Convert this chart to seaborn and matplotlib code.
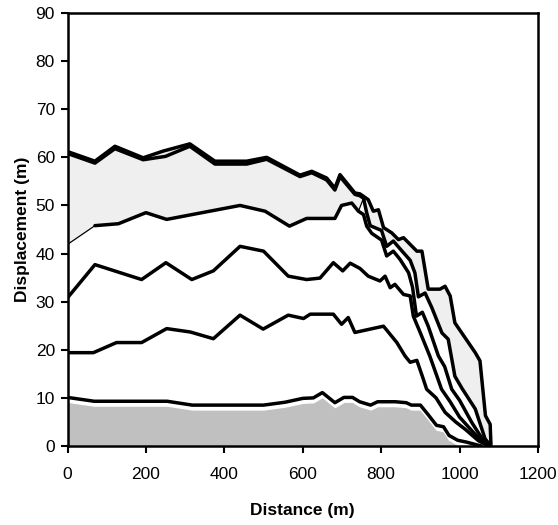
import numpy as np
import matplotlib
matplotlib.use("Agg")
import matplotlib.pyplot as plt
import seaborn as sns
import pandas as pd

# ---------------- data ----------------
l1_x = [0, 70, 121, 193, 244, 312, 376, 457, 508, 593, 623, 661, 682, 695, 733, 746,
        767, 780, 793, 806, 827, 844, 857, 891, 904, 920, 950, 963, 976, 988, 1040,
        1052, 1066, 1078, 1080]
l1_y = [61.2, 59.2, 62.3, 59.9, 61.3, 62.8, 59.2, 59.2, 60.0, 56.3, 57.1, 55.7, 53.6,
        56.4, 52.6, 52.4, 51.2, 48.8, 49.1, 45.4, 44.3, 42.9, 43.3, 40.5, 40.5, 32.6,
        32.6, 33.2, 31.2, 25.6, 19.4, 17.7, 6.3, 4.5, 0.3]

l1b_x = [0, 70, 121, 193, 250, 312, 376, 457, 508, 593, 623, 661, 682, 695, 733, 746,
         755, 763, 772, 801, 814, 831, 848, 874, 886, 895, 912, 929, 955, 971, 988,
         1006, 1040, 1065, 1078]
l1b_y = [60.8, 58.8, 61.8, 59.5, 60.2, 62.3, 58.6, 58.6, 59.6, 56.0, 56.8, 55.3, 53.2,
         56.0, 52.3, 52.0, 51.5, 48.5, 45.8, 44.8, 41.5, 42.6, 41.0, 38.6, 36.0, 31.0,
         31.8, 28.8, 23.5, 22.2, 14.5, 12.0, 7.7, 1.5, 0.2]

l2_x = [0, 70, 130, 200, 253, 440, 504, 566, 610, 682, 699, 725, 742, 755, 763, 776,
        801, 814, 831, 848, 870, 880, 890, 905, 920, 946, 962, 980, 1000, 1031, 1061,
        1072]
l2_y = [41.9, 45.8, 46.2, 48.5, 47.1, 50.0, 48.8, 45.7, 47.3, 47.3, 50.0, 50.5, 48.8,
        48.1, 45.7, 44.2, 42.8, 39.5, 40.5, 38.8, 36.0, 33.0, 27.0, 27.8, 24.9, 18.7,
        16.5, 11.8, 9.5, 4.9, 1.1, 0.1]

l3_x = [0, 70, 189, 251, 317, 372, 440, 500, 563, 610, 644, 678, 702, 721, 746, 767,
        797, 810, 823, 835, 857, 874, 882, 900, 924, 954, 976, 1000, 1031, 1061, 1074]
l3_y = [30.8, 37.7, 34.6, 38.1, 34.6, 36.4, 41.5, 40.5, 35.3, 34.6, 34.9, 38.1, 36.4,
        38.0, 36.9, 35.3, 34.3, 35.3, 32.9, 33.6, 31.5, 31.2, 27.0, 23.5, 18.7, 11.8,
        9.2, 6.0, 3.2, 0.6, 0.0]

l4_x = [0, 66, 125, 189, 253, 313, 372, 440, 499, 563, 602, 619, 678, 699, 716, 733,
        772, 806, 840, 861, 874, 891, 905, 916, 940, 963, 990, 1014, 1048, 1074]
l4_y = [19.4, 19.4, 21.5, 21.5, 24.4, 23.7, 22.3, 27.2, 24.3, 27.2, 26.5, 27.4, 27.4,
        25.3, 26.7, 23.6, 24.3, 24.9, 21.5, 18.7, 17.4, 17.8, 14.5, 11.8, 10.0, 7.0,
        5.0, 3.5, 1.1, 0.0]

l5_x = [0, 68, 254, 318, 500, 555, 600, 627, 650, 682, 705, 727, 745, 773, 791, 836,
        864, 877, 900, 918, 941, 959, 973, 995, 1018, 1055]
l5_y = [10.1, 9.3, 9.3, 8.5, 8.5, 9.1, 9.9, 10.0, 11.1, 9.0, 10.1, 10.1, 9.2, 8.5, 9.2,
        9.2, 9.0, 8.5, 8.5, 6.7, 4.3, 4.0, 2.2, 1.2, 0.8, 0.0]

x_ticks = [0, 200, 400, 600, 800, 1000, 1200]
y_ticks = [0, 10, 20, 30, 40, 50, 60, 70, 80, 90]

# ---------------- style ----------------
sns.set_style("white")
plt.rcParams['font.family'] = ['Liberation Sans', 'DejaVu Sans']
plt.rcParams['text.color'] = 'black'
plt.rcParams['axes.labelcolor'] = 'black'

W, H = 558, 525
fig = plt.figure(figsize=(W / 100, H / 100), dpi=100)
L, R, B, T = 67.5, 538, 446, 13
ax = fig.add_axes([L / W, 1 - B / H, (R - L) / W, (B - T) / H])

# light grey envelope: top line, then back along the lower boundary
lower_x = [x for x in l2_x if x <= 742] + [x for x in l1b_x if x >= 755]
lower_y = [y for x, y in zip(l2_x, l2_y) if x <= 742] + \
          [y for x, y in zip(l1b_x, l1b_y) if x >= 755]
poly_x = list(l1_x) + lower_x[::-1]
poly_y = list(l1_y) + lower_y[::-1]
ax.fill(poly_x, poly_y, facecolor="#efefef", edgecolor="black", linewidth=0.9, zorder=1)

# dark grey area under the lowest line (slightly inset, white rim)
l5a = np.array(l5_y)
ax.fill_between(l5_x, 0, np.clip(l5a - 0.9, 0, None), facecolor="#c0c0c0",
                edgecolor="white", linewidth=1.0, zorder=1)

lw = 2.5
series = [(l1_x, l1_y), (l1b_x, l1b_y), (l2_x[1:], l2_y[1:]), (l3_x, l3_y),
          (l4_x, l4_y), (l5_x, l5_y)]
for xs, ys in series:
    df = pd.DataFrame({"x": xs, "y": ys})
    sns.lineplot(data=df, x="x", y="y", ax=ax, color="black", linewidth=lw,
                 sort=False, estimator=None, zorder=3)

ax.set_xlim(0, 1200)
ax.set_ylim(0, 90)
ax.set_xticks(x_ticks)
ax.set_yticks(y_ticks)
ax.set_xticklabels([str(t) for t in x_ticks])
ax.set_yticklabels([str(t) for t in y_ticks])
ax.tick_params(direction="out", length=5, width=1.5, labelsize=12.5, pad=4,
               colors="black", labelcolor="black", left=True, bottom=True)
ax.tick_params(axis="x", pad=10)
for s in ax.spines.values():
    s.set_visible(True)
    s.set_linewidth(1.8)
    s.set_color("black")

ax.set_xlabel("Distance (m)", fontsize=12.5, fontweight="bold", color="black")
ax.set_ylabel("Displacement (m)", fontsize=12.5, fontweight="bold", color="black")
ax.xaxis.set_label_coords(0.5, -0.132)
ax.yaxis.set_label_coords(-0.08, 0.5)
ax.grid(False)

fig.savefig("out.png", dpi=100)
